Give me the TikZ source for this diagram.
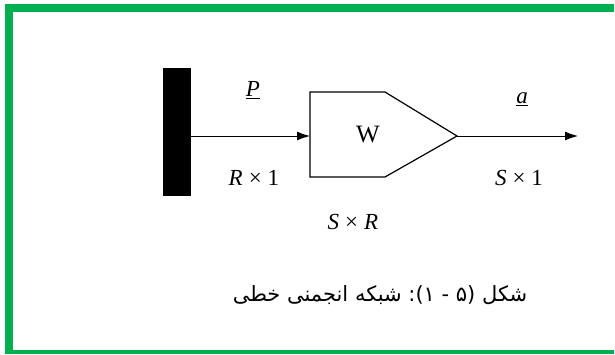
\documentclass[tikz,border=0pt]{standalone}
\usepackage{fontspec}
\setmainfont{Liberation Serif}
\newfontfamily\arabicfont[Script=Arabic]{DejaVu Sans}
\usetikzlibrary{arrows.meta}
\definecolor{frameGreen}{RGB}{0,176,80}
\tikzset{
  conn/.style={line width=1pt,-{Latex[length=13pt,width=9pt]}},
  boxline/.style={line width=1.2pt},
  lbl/.style={font=\fontsize{23}{26}\selectfont, inner sep=0pt},
  ar/.style={font=\fontsize{21}{25}\arabicfont, inner sep=0pt}
}
\newcommand{\aw}[1]{\hbox{#1}}
\newcommand{\dimlab}[2]{\textit{#1}\hspace{6pt}×\hspace{6pt}#2}
\begin{document}
\begin{tikzpicture}[x=1pt,y=-1pt]
\fill[white] (0,0) rectangle (615,354);
\useasboundingbox (0,0) rectangle (615,354);
% green frame
\fill[frameGreen] (5,4) rectangle (614,12);
\fill[frameGreen] (5,4) rectangle (12.5,354);
\fill[frameGreen] (5,350) rectangle (614,354);
% input bar
\node[fill=black, minimum width=28pt, minimum height=128pt, inner sep=0pt] (bar) at (177,132) {};
% weight box
\coordinate (bl) at (310,177);
\coordinate (tl) at (310,92);
\coordinate (tr) at (385,92);
\coordinate (tip) at (457,136);
\coordinate (br) at (385,177);
\coordinate (in) at (310,136);
\draw[boxline] (tl) -- (tr) -- (tip) -- (br) -- (bl) -- cycle;
\node[lbl, font=\fontsize{25}{28}\selectfont] (w) at (368,134) {W};
% connectors
\coordinate (out) at (578,136);
\draw[conn] (bar.east |- in) -- (in);
\draw[conn] (tip) -- (out);
% labels
\node[lbl] (p) at (253,90) {\underline{\textit{P}}};
\node[lbl] (rx1) at (254,178) {\dimlab{R}{1}};
\node[lbl] (sxr) at (353,222) {\dimlab{S}{\textit{R}}};
\node[lbl] (a) at (522,99) {\underline{\textit{a}}};
\node[lbl] (sx1) at (519,178) {\dimlab{S}{1}};
% caption
\node[ar] (cap) at (380,295) {\aw{خطی}\ \aw{انجمنی}\ \aw{شبکه}\ \aw{):}\aw{۱}\ \aw{-}\ \aw{۵}\aw{(}\ \aw{شکل}};
\end{tikzpicture}
\end{document}
